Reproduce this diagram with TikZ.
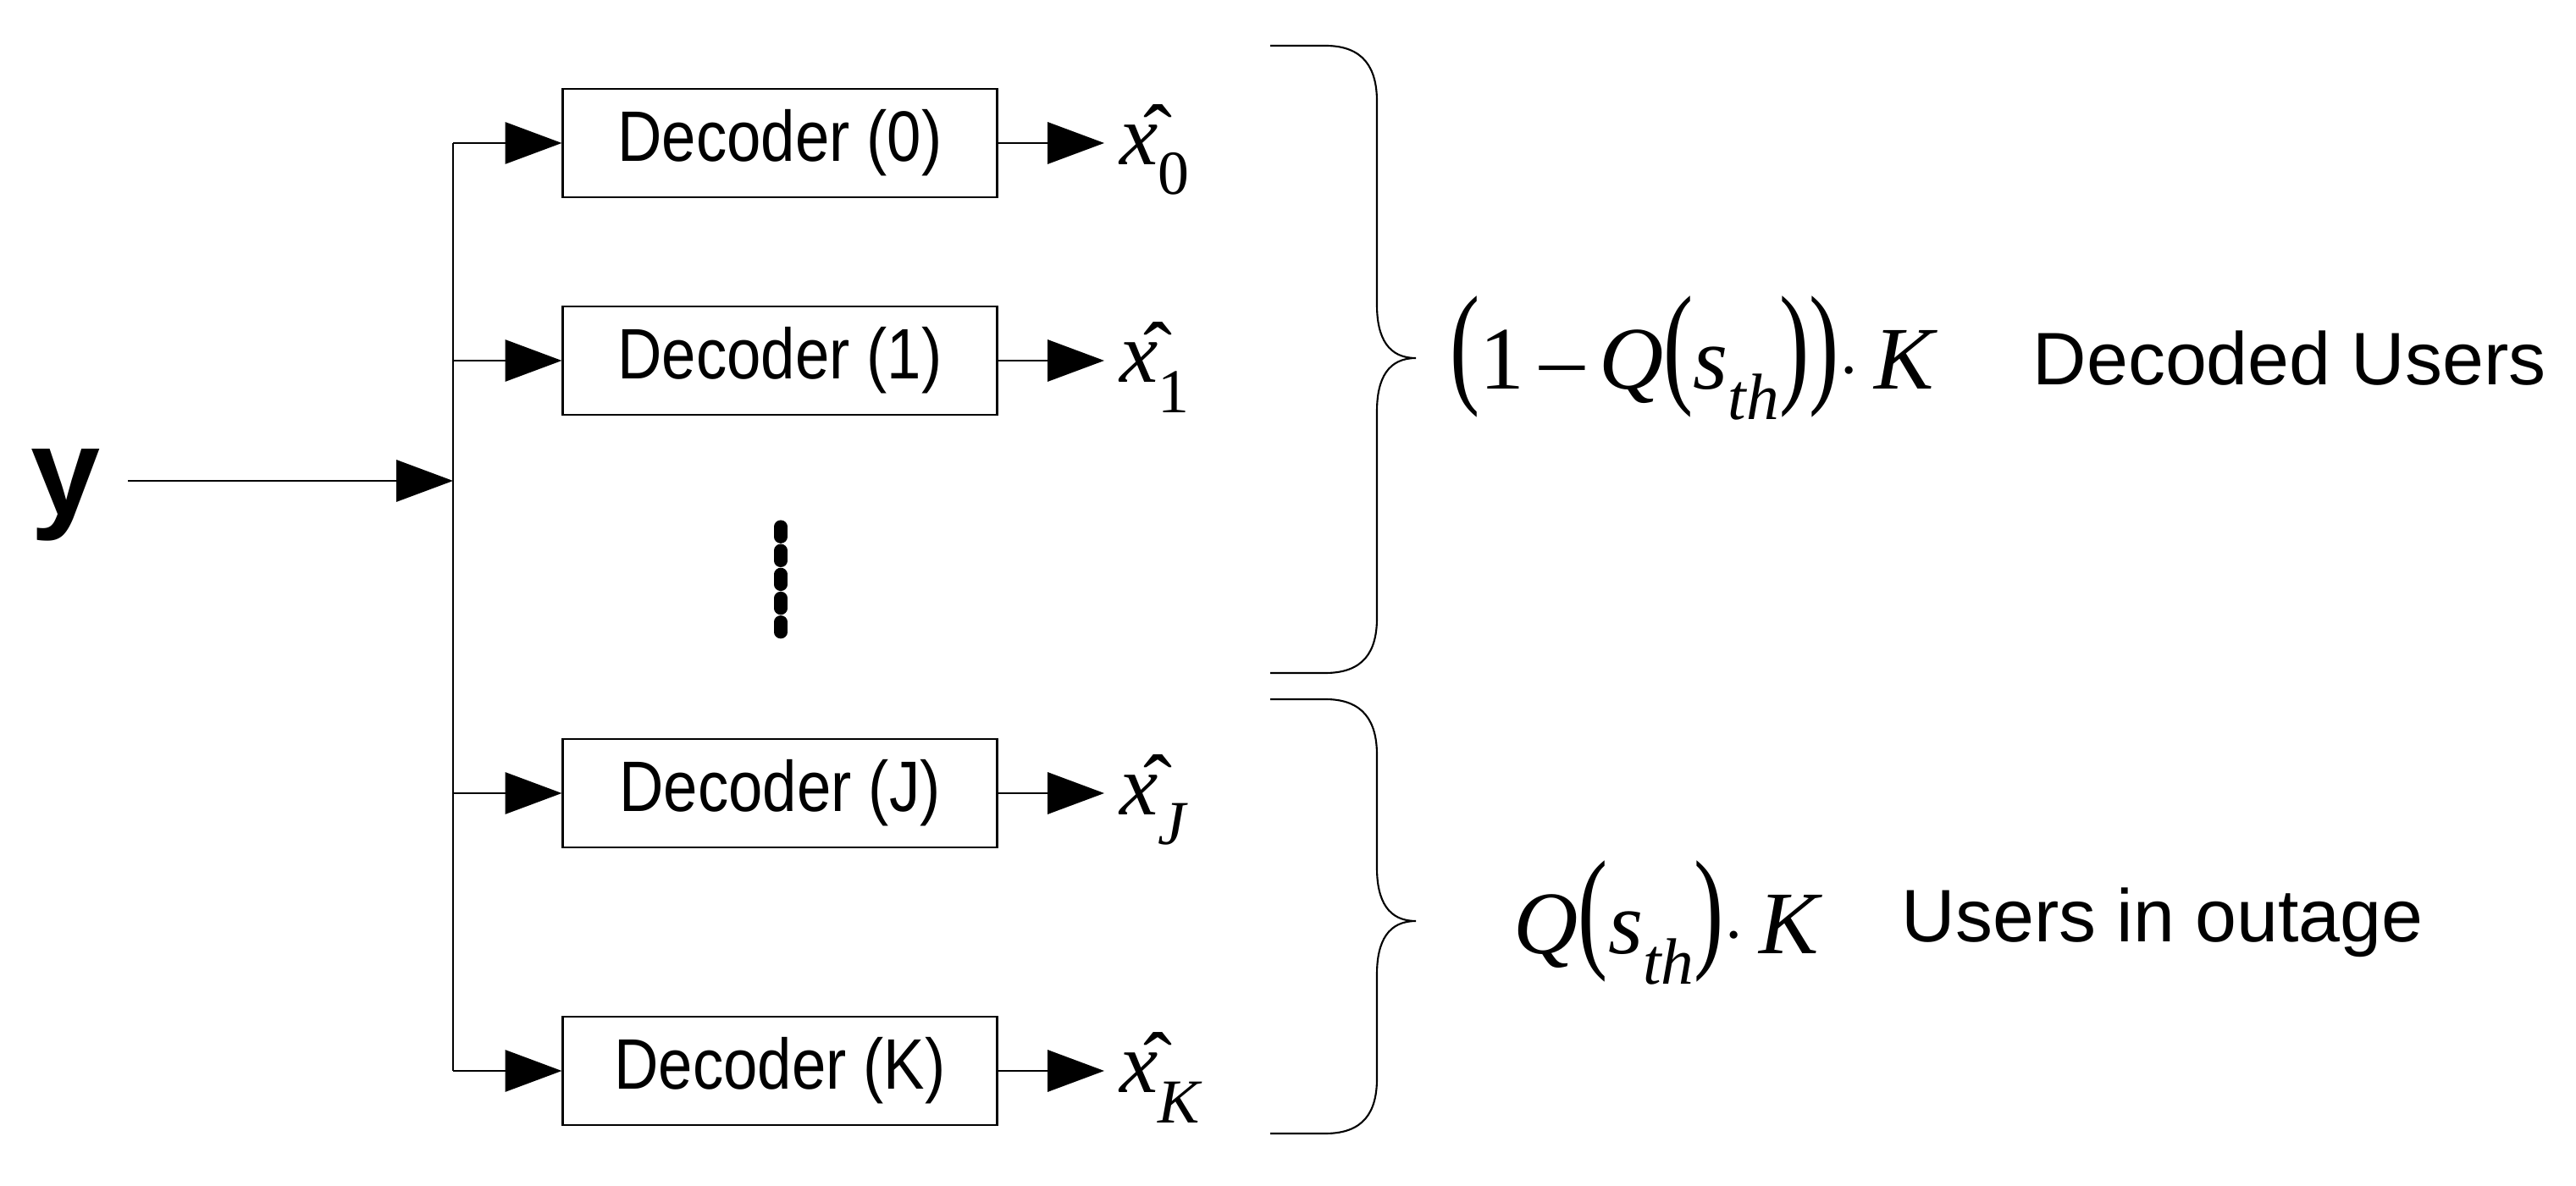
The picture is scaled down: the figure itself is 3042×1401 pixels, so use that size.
\documentclass[tikz,border=0pt]{standalone}
\usepackage{fontspec}
\setmainfont{Liberation Sans}
\newfontfamily\serifm{Liberation Serif}
\usetikzlibrary{arrows.meta}
\newcommand{\xh}[1]{{\serifm\fontsize{29}{32}\selectfont\^{\textit{x}}\raisebox{-0.35em}{\fontsize{21}{23}\selectfont #1}}}
\newcommand{\bp}[1]{\scalebox{1}[1.5]{#1}}
\newcommand{\dtxt}[1]{\scalebox{0.86}[1]{#1}}
\begin{document}
\begin{tikzpicture}[x=0.01cm,y=-0.01cm,
  dec/.style={draw,line width=0.6pt,minimum width=513*0.01cm,minimum height=128*0.01cm,font=\fontsize{24}{27}\selectfont,inner sep=0},
  arr/.style={line width=0.6pt,-{Triangle[length=19pt,width=14pt]}},
  ln/.style={line width=0.6pt}]
\useasboundingbox (0,0) rectangle (3042,1401);
\node[font=\fontsize{42}{46}\selectfont\bfseries] (y) at (78,585) {y};
\coordinate (yin) at (151,568);
\coordinate (bus) at (535,568);
\coordinate (bt) at (535,169);
\coordinate (bb) at (535,1265);
\draw[arr] (yin) -- (bus);
\draw[ln] (bt) -- (bb);
\node[dec] (d0) at (921,169) {\dtxt{Decoder (0)}};
\node[dec] (d1) at (921,426) {\dtxt{Decoder (1)}};
\node[dec] (dJ) at (921,937) {\dtxt{Decoder (J)}};
\node[dec] (dK) at (921,1265) {\dtxt{Decoder (K)}};
\foreach \n/\yy/\s in {0/169/0,1/426/1,J/937/\textit{J},K/1265/\textit{K}}{
  \coordinate (b\n) at (535,\yy);
  \coordinate (o\n) at (1304,\yy);
  \draw[arr] (b\n) -- (d\n.west);
  \draw[arr] (d\n.east) -- (o\n);
  \node[anchor=west,inner sep=0] (x\n) at (1322,\yy+8) {\xh{\s}};
}
\draw[line width=4.3pt,line cap=round,dash pattern=on 3.5pt off 4.5pt] (922,622) -- (922,760);
\draw[ln] (1500,54) -- (1565,54) .. controls (1610,54) and (1626,80) .. (1626,120) -- (1626,360)
  .. controls (1626,400) and (1640,423) .. (1672,423)
  .. controls (1640,423) and (1626,446) .. (1626,486) -- (1626,730)
  .. controls (1626,770) and (1610,795) .. (1565,795) -- (1500,795);
\draw[ln] (1500,826) -- (1565,826) .. controls (1610,826) and (1626,852) .. (1626,892) -- (1626,1025)
  .. controls (1626,1065) and (1640,1088) .. (1672,1088)
  .. controls (1640,1088) and (1626,1111) .. (1626,1151) -- (1626,1274)
  .. controls (1626,1314) and (1610,1339) .. (1565,1339) -- (1500,1339);
\node[anchor=west,inner sep=0,font=\serifm\fontsize{30}{33}\selectfont] (f1) at (1712,423)
  {\bp{(}1\,\textendash\,\textit{Q}\bp{(}\textit{s}\raisebox{-0.35em}{\fontsize{22}{24}\selectfont\textit{th}}\bp{)}\bp{)}$\cdot$\,\textit{K}};
\node[anchor=west,inner sep=0,font=\fontsize{25}{28}\selectfont] (t1) at (2400,423) {Decoded Users};
\node[anchor=west,inner sep=0,font=\serifm\fontsize{30}{33}\selectfont] (f2) at (1787,1090)
  {\textit{Q}\bp{(}\textit{s}\raisebox{-0.35em}{\fontsize{22}{24}\selectfont\textit{th}}\bp{)}$\cdot$\,\textit{K}};
\node[anchor=west,inner sep=0,font=\fontsize{25}{28}\selectfont] (t2) at (2245,1090) {Users in outage};
\end{tikzpicture}
\end{document}
